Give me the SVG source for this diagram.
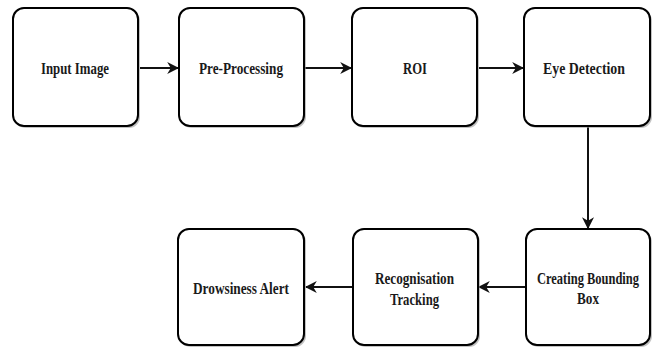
<svg xmlns="http://www.w3.org/2000/svg" width="654" height="349" viewBox="0 0 654 349">
<style>
.box{fill:#ffffff;stroke:#000000;stroke-width:2}
.sh{fill:#9a9a9a;opacity:0.6}
.lbl{font-family:"Liberation Serif",serif;font-weight:bold;font-size:16px;fill:#1a1a1a;text-anchor:middle}
.c{stroke:#111;stroke-width:2;fill:none}
</style>
<defs>
<marker id="ah" viewBox="0 0 10 10" refX="9" refY="5" markerWidth="6" markerHeight="6" orient="auto" markerUnits="strokeWidth">
<path d="M0,0 L10,5 L0,10 L3,5 Z" fill="#111"/>
</marker>
</defs>
<rect width="654" height="349" fill="#ffffff"/>
<g id="connectors">
<line class="c" x1="140" y1="68" x2="178" y2="68" marker-end="url(#ah)"/>
<line class="c" x1="305" y1="68" x2="351" y2="68" marker-end="url(#ah)"/>
<line class="c" x1="479" y1="68" x2="523" y2="68" marker-end="url(#ah)"/>
<line class="c" x1="588" y1="127" x2="588" y2="228" marker-end="url(#ah)"/>
<line class="c" x1="525" y1="287" x2="479" y2="287" marker-end="url(#ah)"/>
<line class="c" x1="352" y1="287" x2="306" y2="287" marker-end="url(#ah)"/>
</g>
<g id="input-image">
<rect class="sh" x="15" y="10" width="125" height="118" rx="11"/>
<rect class="box" x="13" y="8" width="125" height="118" rx="11"/>
<text class="lbl" x="75" y="74" textLength="68" lengthAdjust="spacingAndGlyphs">Input Image</text>
</g>
<g id="pre-processing">
<rect class="sh" x="181" y="10" width="125" height="118" rx="11"/>
<rect class="box" x="179" y="8" width="125" height="118" rx="11"/>
<text class="lbl" x="241" y="74" textLength="84" lengthAdjust="spacingAndGlyphs">Pre-Processing</text>
</g>
<g id="roi">
<rect class="sh" x="354" y="10" width="125" height="118" rx="11"/>
<rect class="box" x="352" y="8" width="125" height="118" rx="11"/>
<text class="lbl" x="415" y="74" textLength="24" lengthAdjust="spacingAndGlyphs">ROI</text>
</g>
<g id="eye-detection">
<rect class="sh" x="526" y="10" width="126" height="118" rx="11"/>
<rect class="box" x="524" y="8" width="126" height="118" rx="11"/>
<text class="lbl" x="584" y="74" textLength="82" lengthAdjust="spacingAndGlyphs">Eye Detection</text>
</g>
<g id="creating-bounding-box">
<rect class="sh" x="528" y="231" width="124" height="116" rx="11"/>
<rect class="box" x="526" y="229" width="124" height="116" rx="11"/>
<text class="lbl" x="0" y="0" transform="translate(588,284) scale(0.78,1)">Creating Bounding</text>
<text class="lbl" x="588" y="304" textLength="22" lengthAdjust="spacingAndGlyphs">Box</text>
</g>
<g id="recognisation-tracking">
<rect class="sh" x="355" y="231" width="125" height="116" rx="11"/>
<rect class="box" x="353" y="229" width="125" height="116" rx="11"/>
<text class="lbl" x="414.5" y="284" textLength="79" lengthAdjust="spacingAndGlyphs">Recognisation</text>
<text class="lbl" x="414.5" y="305" textLength="49" lengthAdjust="spacingAndGlyphs">Tracking</text>
</g>
<g id="drowsiness-alert">
<rect class="sh" x="180" y="231" width="126" height="116" rx="11"/>
<rect class="box" x="178" y="229" width="126" height="116" rx="11"/>
<text class="lbl" x="241" y="294" textLength="96" lengthAdjust="spacingAndGlyphs">Drowsiness Alert</text>
</g>
</svg>
